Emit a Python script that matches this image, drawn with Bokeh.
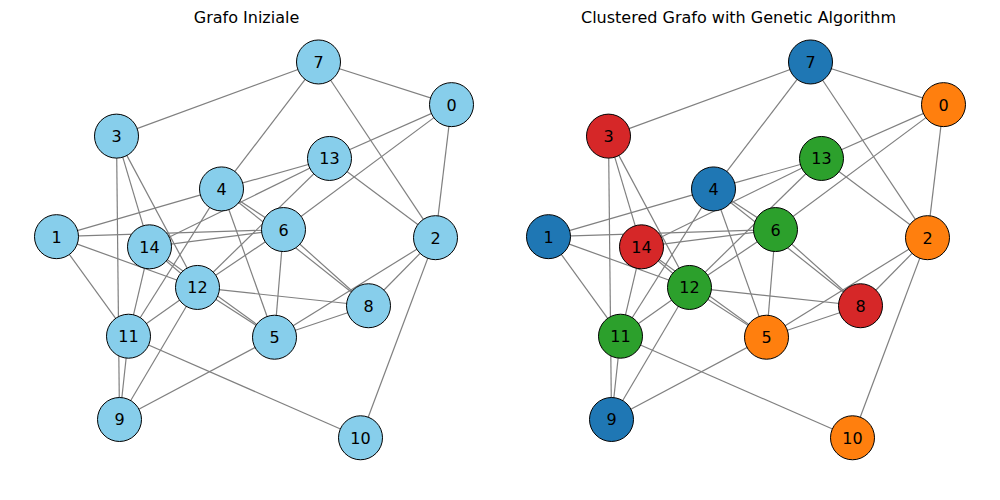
from bokeh.plotting import figure
from bokeh.layouts import row
from bokeh.models import Range1d
from bokeh.embed import file_html
from bokeh.resources import INLINE

# node positions (panel-local pixels)
nodes = list(range(15))
node_x = [443, 48, 427, 108, 213, 266, 275, 310, 360, 111, 352, 120, 189, 321, 141]
node_y = [117, 247, 248, 148, 200, 346, 240, 75, 315, 427, 445, 345, 297, 170, 257]
edges = [(7, 0), (7, 3), (7, 4), (7, 2), (0, 13), (0, 6), (0, 2), (13, 4), (13, 14),
         (13, 12), (13, 2), (4, 1), (4, 6), (4, 5), (4, 11), (4, 8), (1, 6), (1, 12),
         (1, 11), (14, 6), (14, 3), (14, 12), (14, 5), (14, 11), (3, 12),
         (3, 9), (6, 12), (6, 5), (6, 8), (12, 5), (12, 8), (12, 11), (12, 9),
         (2, 5), (2, 8), (2, 10), (8, 5), (11, 9), (11, 10), (9, 5)]
clusters = [1, 0, 1, 3, 0, 1, 2, 0, 3, 0, 1, 2, 2, 2, 3]
palette = ["#1f77b4", "#ff7f0e", "#2ca02c", "#d62728"]


def draw(title, colors):
    p = figure(width=492, height=484, output_backend="svg", toolbar_location=None,
               x_range=Range1d(-8, 484), y_range=Range1d(-491, -45), title=title,
               min_border=0)
    p.axis.visible = False
    p.grid.visible = False
    p.outline_line_color = None
    p.title.align = "center"
    p.title.text_font = "DejaVu Sans"
    p.title.text_font_size = "12pt"
    p.title.text_font_style = "normal"
    p.title.text_color = "black"
    xs = [[node_x[a], node_x[b]] for a, b in edges]
    ys = [[-node_y[a], -node_y[b]] for a, b in edges]
    p.multi_line(xs, ys, line_color="gray", line_width=1.2)
    p.scatter(node_x, [-y for y in node_y], size=44, fill_color=colors,
              line_color="black", line_width=1)
    p.text(node_x, [-y for y in node_y], text=[str(n) for n in nodes],
           text_align="center", text_baseline="middle", text_font_size="12pt",
           text_font={"value": "DejaVu Sans"}, text_color="black")
    return p


left = draw("Grafo Iniziale", ["#87ceeb"] * 15)
right = draw("Clustered Grafo with Genetic Algorithm", [palette[c] for c in clusters])
layout = row(left, right, spacing=0)
open("out.html", "w").write(file_html(layout, INLINE))
